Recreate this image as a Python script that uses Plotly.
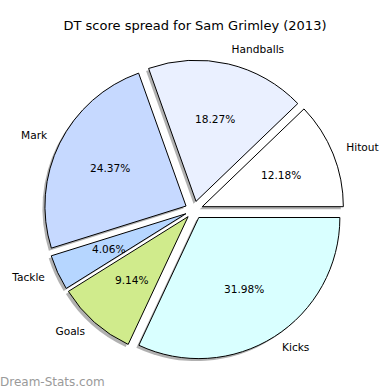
import math
import plotly.graph_objects as go

# ---- data ----
categories = ["Hitout", "Handballs", "Mark", "Tackle", "Goals", "Kicks"]
dt_points = [24, 36, 48, 8, 18, 63]
colors = ["#ffffff", "#eaf0ff", "#c6d9ff", "#b6d6ff", "#d0eb8c", "#d9ffff"]
title_text = "DT score spread for Sam Grimley (2013)"
watermark = "Dream-Stats.com"

# ---- layout constants (pixels) ----
W = H = 390
CX, CY = 194, 210          # pie centre (page px)
BOX = 300                  # pie domain box side (px)
SH = 2.5                   # shadow offset (left & down)
PULL = 0.063
LABEL_DIST = 1.1
PCT_DIST = 0.6
OVER_R = 180               # overlay half-size (px)
FONT = "DejaVu Sans"

R_PX = BOX / 2 / (1 + PULL)           # plotly pie radius in px
LIM = OVER_R / R_PX                   # overlay axis half-range, in pie radii


def box_domain(cx, cy, side):
    return dict(x=[(cx - side / 2) / W, (cx + side / 2) / W],
                y=[1 - (cy + side / 2) / H, 1 - (cy - side / 2) / H])


total = sum(dt_points)
start_rot = 90 - 360 * dt_points[0] / total
shares = [v / total for v in dt_points]
mids, acc = [], 0.0
for s in shares:
    mids.append(360 * (acc + s / 2))
    acc += s
pct_text = [f"{100 * s:.2f}%" for s in shares]
lab_pos = ["middle right" if math.cos(math.radians(m)) > 0 else "middle left" for m in mids]

common = dict(labels=categories, values=dt_points, sort=False,
              direction="counterclockwise", rotation=start_rot,
              pull=[PULL] * len(categories), hoverinfo="skip",
              textinfo="none", showlegend=False)

fig = go.Figure()
# shadow
fig.add_trace(go.Pie(**common, domain=box_domain(CX - SH, CY + SH, BOX),
                     marker=dict(colors=["rgba(60,60,60,0.4)"] * len(categories),
                                 line=dict(width=0))))
# slices
fig.add_trace(go.Pie(**common, domain=box_domain(CX, CY, BOX),
                     marker=dict(colors=colors, line=dict(color="black", width=1))))
# category labels (outside the pie)
fig.add_trace(go.Scatterpolar(r=[PULL + LABEL_DIST] * len(mids), theta=mids, mode="text",
                              text=categories, textposition=lab_pos,
                              textfont=dict(family=FONT, size=10.6, color="black"),
                              hoverinfo="skip", showlegend=False, cliponaxis=False))

# percentage labels sit on top of the slices -> annotations on a hidden axis pair
pct_annotations = []
for m, t in zip(mids, pct_text):
    a = math.radians(m)
    pct_annotations.append(dict(
        text=t, xref="x", yref="y",
        x=(PULL + PCT_DIST) * math.cos(a), y=(PULL + PCT_DIST) * math.sin(a),
        xanchor="center", yanchor="middle", showarrow=False,
        font=dict(family=FONT, size=10.6, color="black")))

over_dom = box_domain(CX, CY, 2 * OVER_R)
fig.update_layout(
    width=W, height=H,
    margin=dict(l=0, r=0, t=0, b=0),
    paper_bgcolor="white", plot_bgcolor="rgba(0,0,0,0)",
    polar=dict(domain=over_dom,
               bgcolor="rgba(0,0,0,0)",
               radialaxis=dict(range=[0, LIM], visible=False, showgrid=False),
               angularaxis=dict(visible=False, showgrid=False, rotation=0,
                                direction="counterclockwise")),
    xaxis=dict(domain=over_dom["x"], range=[-LIM, LIM], visible=False, fixedrange=True),
    yaxis=dict(domain=over_dom["y"], range=[-LIM, LIM], visible=False, fixedrange=True),
    title=dict(text=title_text, x=0.5, xanchor="center", y=1 - 25 / H, yanchor="middle",
               font=dict(family=FONT, size=13, color="black")),
    annotations=pct_annotations + [dict(
        text=watermark, xref="paper", yref="paper", x=0, y=0,
        xshift=-2, yshift=-1, xanchor="left", yanchor="bottom",
        showarrow=False, font=dict(family=FONT, size=12, color="#9a9a9a"))],
)

fig.write_html("out.html")
